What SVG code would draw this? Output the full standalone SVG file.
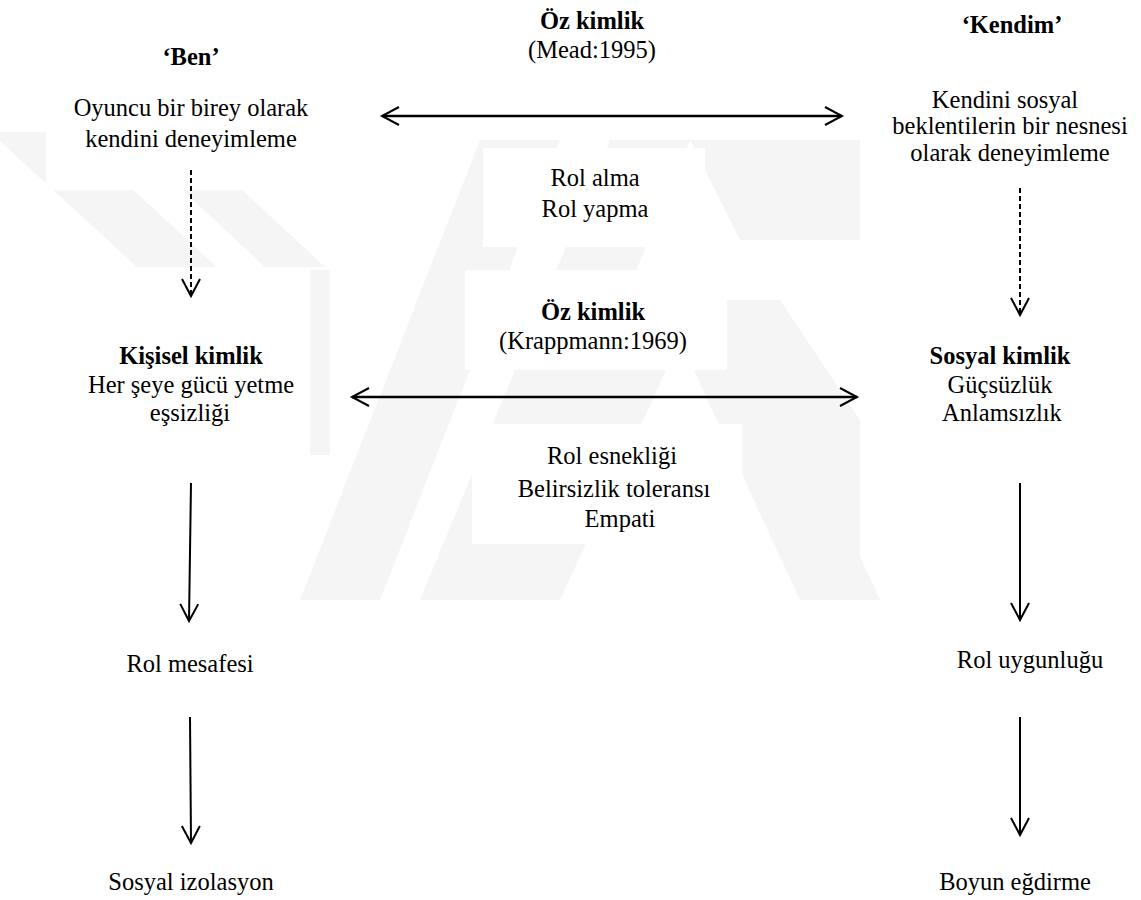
<svg xmlns="http://www.w3.org/2000/svg" width="1141" height="900" viewBox="0 0 1141 900">
<style>
  .t { font-size: 24.5px; fill: #000; text-anchor: middle; }
  .b { font-weight: bold; }
  .wm { fill: #f5f5f5; }
  .bg { fill: #ffffff; }
  .ln { stroke: #000; stroke-width: 2; fill: none; }
  .dash { stroke: #000; stroke-width: 2; fill: none; stroke-dasharray: 5 3; }
  .dbl { stroke: #000; stroke-width: 2.5; fill: none; }
</style>
<defs>
  <marker id="head" markerUnits="userSpaceOnUse" markerWidth="24" markerHeight="24" viewBox="-20 -12 24 24" refX="0" refY="0" orient="auto-start-reverse">
    <path d="M -17 -9 L 0 0 L -17 9" fill="none" stroke="#000" stroke-width="2"/>
  </marker>
</defs>
<rect width="1141" height="900" fill="#fff"/>
<g id="watermark">
  <polygon class="wm" points="-10,132 70,132 217,267 137,267"/>
  <polygon class="wm" points="120,132 180,132 325,267 265,267"/>
  <polygon class="wm" points="300,600 380,600 560,140 480,140"/>
  <polygon class="wm" points="420,600 500,600 690,140 610,140"/>
  <polygon class="wm" points="690,140 860,140 860,240 740,240"/>
  <polygon class="wm" points="700,300 780,300 860,420 860,560 790,560"/>
  <polygon class="wm" points="600,340 680,340 560,600 480,600"/>
  <polygon class="wm" points="680,340 760,340 880,600 800,600"/>
  <polygon class="wm" points="310,270 330,270 330,455 310,455"/>
</g>
<g id="boxes">
  <rect class="bg" x="46" y="130" width="290" height="60"/>
  <rect class="bg" x="483" y="148" width="222" height="99"/>
  <rect class="bg" x="465" y="270" width="262" height="100"/>
  <rect class="bg" x="472" y="424" width="270" height="120"/>
</g>
<g id="connectors">
  <line class="dash" x1="191" y1="170" x2="191" y2="296" marker-end="url(#head)"/>
  <line class="dash" x1="1020" y1="188" x2="1020" y2="315" marker-end="url(#head)"/>
  <line class="dbl" x1="382" y1="116" x2="842" y2="116" marker-start="url(#head)" marker-end="url(#head)"/>
  <line class="dbl" x1="352" y1="397" x2="857" y2="397" marker-start="url(#head)" marker-end="url(#head)"/>
  <line class="ln" x1="191" y1="483" x2="189" y2="621" marker-end="url(#head)"/>
  <line class="ln" x1="190" y1="717" x2="191" y2="843" marker-end="url(#head)"/>
  <line class="ln" x1="1020" y1="483" x2="1020" y2="620" marker-end="url(#head)"/>
  <line class="ln" x1="1020" y1="717" x2="1020" y2="835" marker-end="url(#head)"/>
</g>
<g font-family="Liberation Serif, serif">
<g id="node-ben">
  <text class="t b" x="191" y="65">‘Ben’</text>
  <text class="t" x="191" y="116">Oyuncu bir birey olarak</text>
  <text class="t" x="191" y="147">kendini deneyimleme</text>
</g>
<g id="node-oz-mead">
  <text class="t b" x="592" y="29">Öz kimlik</text>
  <text class="t" x="592" y="58">(Mead:1995)</text>
</g>
<g id="node-kendim">
  <text class="t b" x="1012" y="33">‘Kendim’</text>
  <text class="t" x="1005" y="108">Kendini sosyal</text>
  <text class="t" x="1010" y="134">beklentilerin bir nesnesi</text>
  <text class="t" x="1010" y="161">olarak deneyimleme</text>
</g>
<g id="node-rol-alma">
  <text class="t" x="595" y="186">Rol alma</text>
  <text class="t" x="595" y="217">Rol yapma</text>
</g>
<g id="node-oz-krappmann">
  <text class="t b" x="593" y="320">Öz kimlik</text>
  <text class="t" x="593" y="349">(Krappmann:1969)</text>
</g>
<g id="node-kisisel">
  <text class="t b" x="191" y="364">Kişisel kimlik</text>
  <text class="t" x="191" y="393">Her şeye gücü yetme</text>
  <text class="t" x="190" y="421">eşsizliği</text>
</g>
<g id="node-sosyal-kimlik">
  <text class="t b" x="1000" y="364">Sosyal kimlik</text>
  <text class="t" x="1000" y="393">Güçsüzlük</text>
  <text class="t" x="1002" y="421">Anlamsızlık</text>
</g>
<g id="node-rol-esnekligi">
  <text class="t" x="612" y="464">Rol esnekliği</text>
  <text class="t" x="614" y="497">Belirsizlik toleransı</text>
  <text class="t" x="620" y="527">Empati</text>
</g>
<g id="node-rol-mesafesi">
  <text class="t" x="190" y="672">Rol mesafesi</text>
</g>
<g id="node-rol-uygunlugu">
  <text class="t" x="1030" y="668">Rol uygunluğu</text>
</g>
<g id="node-sosyal-izolasyon">
  <text class="t" x="191" y="890">Sosyal izolasyon</text>
</g>
<g id="node-boyun">
  <text class="t" x="1015" y="890">Boyun eğdirme</text>
</g>
</g>
</svg>
